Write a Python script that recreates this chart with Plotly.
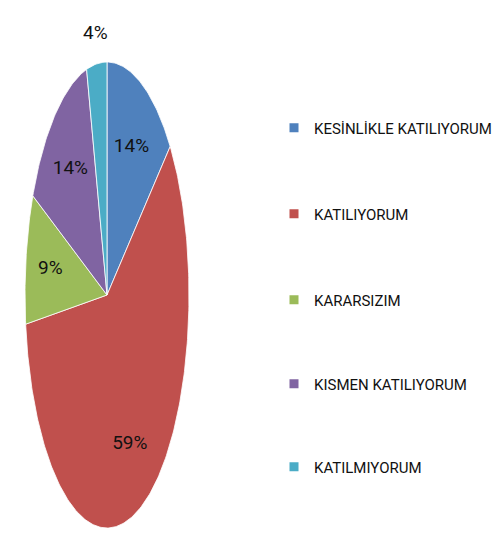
import numpy as np
import plotly.graph_objects as go

# ---- data ----
categories = ["KESİNLİKLE KATILIYORUM", "KATILIYORUM", "KARARSIZIM",
              "KISMEN KATILIYORUM", "KATILMIYORUM"]
percentages = [14, 59, 9, 14, 4]
slice_labels = ["14%", "59%", "9%", "14%", "4%"]

# ---- style ----
colors = ["#4F81BD", "#C0504D", "#9BBB59", "#8064A2", "#4BACC6"]
label_places = ["inside", "inside", "inside", "inside", "outside"]
FONT = "Roboto, Liberation Sans, sans-serif"

W, H = 501, 537
cx_px, cy_px, rx_px, ry_px = 107, 295, 82, 233
x_range = [-cx_px / rx_px, (W - cx_px) / rx_px]
y_range = [-(H - cy_px) / ry_px, cy_px / ry_px]

fig = go.Figure()

total = float(sum(percentages))
cum = np.concatenate([[0.0], np.cumsum(percentages) / total])

lab_x, lab_y = [], []
for i, (cat, col) in enumerate(zip(categories, colors)):
    a0, a1 = cum[i] * 2 * np.pi, cum[i + 1] * 2 * np.pi
    n = max(4, int((a1 - a0) / (2 * np.pi) * 400))
    th = np.linspace(a0, a1, n)
    xs = np.concatenate([[0.0], np.sin(th), [0.0]])
    ys = np.concatenate([[0.0], np.cos(th), [0.0]])
    fig.add_trace(go.Scatter(
        x=xs, y=ys, mode="lines", fill="toself", fillcolor=col,
        line=dict(color="rgba(255,255,255,0.8)", width=1),
        hoverinfo="skip", showlegend=False))
    mid = (a0 + a1) / 2
    f = 0.7 if label_places[i] == "inside" else 1.13
    lab_x.append(f * np.sin(mid))
    lab_y.append(f * np.cos(mid))

fig.add_trace(go.Scatter(
    x=lab_x, y=lab_y, mode="text", text=slice_labels,
    textfont=dict(family=FONT, size=19, color="#111111"),
    hoverinfo="skip", showlegend=False))

legend_y_px = [128, 214, 300, 384, 467]
legend_keys = ["legend", "legend2", "legend3", "legend4", "legend5"]
for cat, col, lk in zip(categories, colors, legend_keys):
    fig.add_trace(go.Scatter(
        x=[None], y=[None], mode="markers", name=cat, legend=lk,
        marker=dict(symbol="square", size=9, color=col),
        hoverinfo="skip"))

legends = {}
for lk, ypx in zip(legend_keys, legend_y_px):
    legends[lk] = dict(
        x=274 / W, xanchor="left", y=1 - ypx / H, yanchor="middle",
        bgcolor="rgba(0,0,0,0)", borderwidth=0,
        font=dict(family=FONT, size=15, color="#111111"),
        itemclick=False, itemdoubleclick=False)

fig.update_layout(
    width=W, height=H,
    margin=dict(l=0, r=0, t=0, b=0, autoexpand=False),
    paper_bgcolor="white", plot_bgcolor="white",
    xaxis=dict(range=x_range, visible=False, fixedrange=True),
    yaxis=dict(range=y_range, visible=False, fixedrange=True),
    hovermode=False,
    showlegend=True,
    **legends,
)

fig.write_html("out.html", config={"displayModeBar": False},
               post_script="document.body.style.margin='0';")
